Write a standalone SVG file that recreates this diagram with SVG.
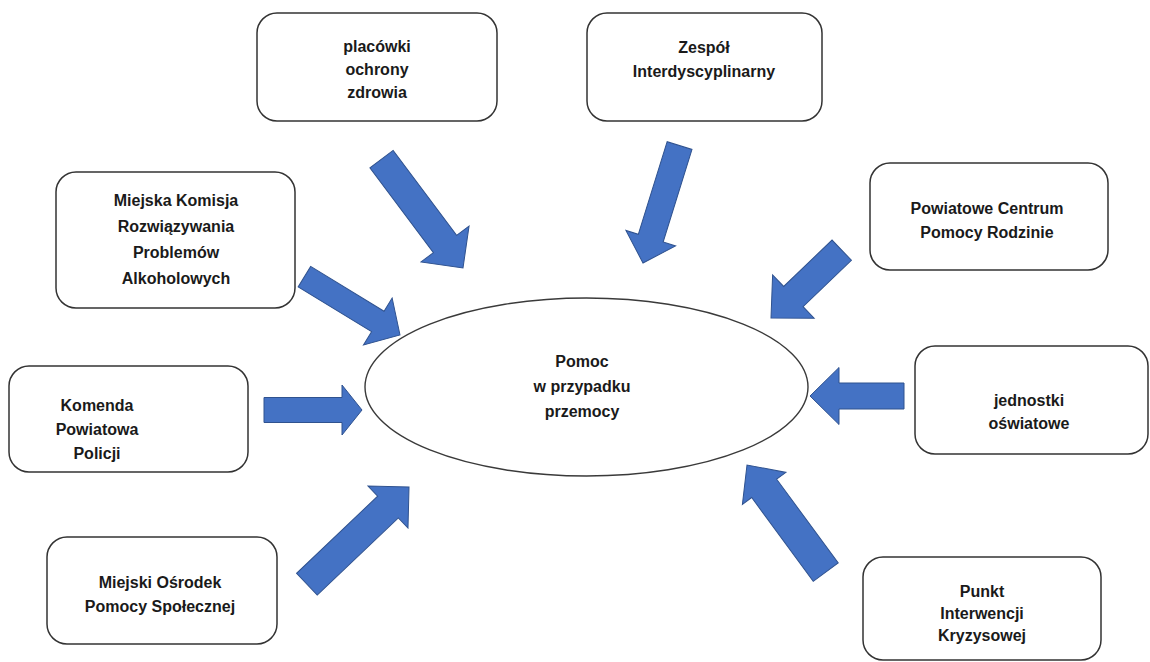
<svg xmlns="http://www.w3.org/2000/svg" width="1150" height="662" viewBox="0 0 1150 662">
<style>
.box{fill:#fff;stroke:#333;stroke-width:1.5}
.ell{fill:#fff;stroke:#3a3a3a;stroke-width:1.4}
.t{font-family:"Liberation Sans",Arial,sans-serif;font-weight:bold;font-size:16px;fill:#1a1a1a;text-anchor:middle}
.arr{fill:#4472C4;stroke:#2F528F;stroke-width:1;stroke-linejoin:miter}
</style>
<rect width="1150" height="662" fill="#fff"/>
<g id="center">
<ellipse class="ell" cx="586.5" cy="387" rx="221.5" ry="89"/>
<text class="t" x="582" y="367">Pomoc</text>
<text class="t" x="582" y="392">w przypadku</text>
<text class="t" x="582" y="417">przemocy</text>
</g>
<g id="placowki">
<rect class="box" x="257" y="13" width="240" height="108" rx="20"/>
<text class="t" x="377" y="52">placówki</text>
<text class="t" x="377" y="75">ochrony</text>
<text class="t" x="377" y="98">zdrowia</text>
</g>
<g id="zespol">
<rect class="box" x="587" y="13" width="235" height="108" rx="20"/>
<text class="t" x="704" y="53">Zespół</text>
<text class="t" x="704" y="77">Interdyscyplinarny</text>
</g>
<g id="komisja">
<rect class="box" x="56" y="172" width="239" height="136" rx="20"/>
<text class="t" x="176" y="206">Miejska Komisja</text>
<text class="t" x="176" y="232">Rozwiązywania</text>
<text class="t" x="176" y="258">Problemów</text>
<text class="t" x="176" y="284">Alkoholowych</text>
</g>
<g id="pcpr">
<rect class="box" x="870" y="163" width="238" height="107" rx="20"/>
<text class="t" x="987" y="214">Powiatowe Centrum</text>
<text class="t" x="987" y="238">Pomocy Rodzinie</text>
</g>
<g id="policja">
<rect class="box" x="9" y="366" width="239" height="106" rx="20"/>
<text class="t" x="97" y="411">Komenda</text>
<text class="t" x="97" y="435">Powiatowa</text>
<text class="t" x="97" y="459">Policji</text>
</g>
<g id="oswiata">
<rect class="box" x="915" y="346" width="233" height="108" rx="20"/>
<text class="t" x="1029" y="406">jednostki</text>
<text class="t" x="1029" y="429">oświatowe</text>
</g>
<g id="mops">
<rect class="box" x="47" y="537" width="230" height="107" rx="20"/>
<text class="t" x="160" y="588">Miejski Ośrodek</text>
<text class="t" x="160" y="612">Pomocy Społecznej</text>
</g>
<g id="pik">
<rect class="box" x="863" y="557" width="238" height="103" rx="20"/>
<text class="t" x="982" y="597">Punkt</text>
<text class="t" x="982" y="619">Interwencji</text>
<text class="t" x="982" y="641">Kryzysowej</text>
</g>
<g id="connectors">
<polygon class="arr" transform="translate(463,268) rotate(53.2)" points="0,0 -30,-30 -30,-14.5 -136,-14.5 -136,14.5 -30,14.5 -30,30"/>
<polygon class="arr" transform="translate(643,263) rotate(107.3)" points="0,0 -26,-26 -26,-13 -123,-13 -123,13 -26,13 -26,26"/>
<polygon class="arr" transform="translate(771,318) rotate(136.2)" points="0,0 -31,-30 -31,-14 -98,-14 -98,14 -31,14 -31,30"/>
<polygon class="arr" transform="translate(400,335) rotate(31.4)" points="0,0 -26,-27.5 -26,-12 -112,-12 -112,12 -26,12 -26,27.5"/>
<polygon class="arr" transform="translate(362,410)" points="0,0 -20,-25 -20,-12.5 -98,-12.5 -98,12.5 -20,12.5 -20,25"/>
<polygon class="arr" transform="translate(810,396) rotate(180)" points="0,0 -29,-28.5 -29,-13 -94,-13 -94,13 -29,13 -29,28.5"/>
<polygon class="arr" transform="translate(409,487) rotate(-43.6)" points="0,0 -29,-29 -29,-15 -141,-15 -141,15 -29,15 -29,29"/>
<polygon class="arr" transform="translate(747,465) rotate(-126.3)" points="0,0 -29,-27 -29,-15.5 -133,-15.5 -133,15.5 -29,15.5 -29,27"/>
</g>
</svg>
